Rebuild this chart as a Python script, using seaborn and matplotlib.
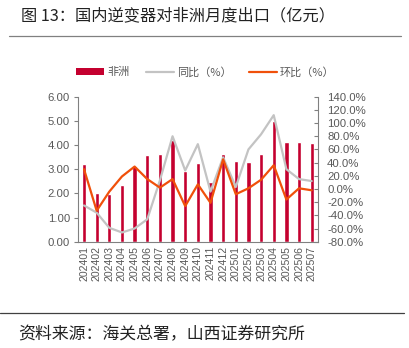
import matplotlib
matplotlib.use("Agg")
import matplotlib.pyplot as plt
import seaborn as sns
import pandas as pd
from matplotlib.lines import Line2D
from matplotlib.patches import Patch
from matplotlib.ticker import FuncFormatter, MultipleLocator

months = ["202401", "202402", "202403", "202404", "202405", "202406", "202407",
          "202408", "202409", "202410", "202411", "202412", "202501", "202502",
          "202503", "202504", "202505", "202506", "202507"]
africa = [3.21, 2.03, 1.97, 2.35, 3.15, 3.58, 3.63, 4.21, 2.94, 3.26,
          2.45, 3.63, 3.32, 3.29, 3.61, 5.01, 4.11, 4.13, 4.08]
yoy = [-25, -36, -59, -66, -60, -46, 13, 80, 28, 68,
       -4, 48, 3, 60, 83, 112, 30, 15, 12]
mom = [30, -33, -4, 19, 34, 15, 2, 15, -26, 7,
       -21, 45, -8, 1, 14, 36, -16, 1, -2]

legend_labels = ["非洲", "同比（%）", "环比（%）"]
title_text = "图 13：国内逆变器对非洲月度出口（亿元）"
source_text = "资料来源：海关总署，山西证券研究所"

bar_color = "#C4002F"
yoy_color = "#C3C3C3"
mom_color = "#F0500A"
text_gray = "#595959"
tick_font = "Liberation Sans"

sns.set_theme(style="white")
plt.rcParams["font.family"] = ["Noto Sans CJK SC", "DejaVu Sans"]

df = pd.DataFrame({"month": months, "africa": africa, "yoy": yoy, "mom": mom})

fig = plt.figure(figsize=(4.10, 3.48), dpi=100)
ax = fig.add_axes([0.1895, 0.3055, 0.5861, 0.4166])
sns.barplot(data=df, x="month", y="africa", color=bar_color, width=0.34,
            saturation=1, ax=ax)
ax.set_xlim(-0.5, len(months) - 0.5)
ax.set_ylim(0, 6)
ax.yaxis.set_major_locator(MultipleLocator(1))
ax.yaxis.set_major_formatter(FuncFormatter(lambda v, p: f"{v:.2f}"))
ax.set_xlabel("")
ax.set_ylabel("")

ax2 = ax.twinx()
sns.lineplot(data=df, x="month", y="yoy", color=yoy_color, linewidth=1.6,
             ax=ax2, sort=False)
sns.lineplot(data=df, x="month", y="mom", color=mom_color, linewidth=1.6,
             ax=ax2, sort=False)
ax2.set_ylim(-80, 140)
ax2.yaxis.set_major_locator(MultipleLocator(20))
ax2.yaxis.set_major_formatter(FuncFormatter(lambda v, p: f"{v:.1f}%"))
ax2.set_xlim(-0.5, len(months) - 0.5)
ax2.set_ylabel("")
ax2.set_xlabel("")

for a in (ax, ax2):
    for s in a.spines.values():
        s.set_visible(False)
    a.grid(False)

ax.spines["left"].set_visible(True)
ax.spines["bottom"].set_visible(True)
ax2.spines["right"].set_visible(True)
for s in (ax.spines["left"], ax.spines["bottom"], ax2.spines["right"]):
    s.set_color("#808080")
    s.set_linewidth(0.8)

ax.set_xticks([i - 0.5 for i in range(len(months) + 1)], minor=True)
ax.set_xticks(range(len(months)))
ax.set_xticklabels(months, rotation=90, fontsize=7.6, color=text_gray,
                   family=tick_font)
ax.tick_params(axis="x", which="major", length=0, pad=3)
ax.tick_params(axis="x", which="minor", length=3, color="#808080", width=0.8,
               direction="out")
ax.tick_params(axis="y", length=3, color="#808080", width=0.8, direction="out",
               labelsize=8.2, labelcolor=text_gray, pad=2.5)
ax2.tick_params(axis="y", length=3, color="#808080", width=0.8, direction="in",
                labelsize=8.2, labelcolor=text_gray, pad=6.5)
for lab in ax.get_yticklabels() + ax2.get_yticklabels():
    lab.set_family(tick_font)

handles = [Patch(facecolor=bar_color, edgecolor="none"),
           Line2D([], [], color=yoy_color, linewidth=1.6),
           Line2D([], [], color=mom_color, linewidth=1.6)]
fig.legend(handles, legend_labels, loc="center", bbox_to_anchor=(0.501, 0.793),
           ncol=3, frameon=False, fontsize=8, labelcolor=text_gray,
           handlelength=2.5, handleheight=0.5, handletextpad=0.3,
           columnspacing=1.5)

fig.text(0.051, 0.955, title_text, fontsize=11.7, color="#222222", va="center",
         ha="left")
fig.add_artist(Line2D([0.022, 0.978], [0.897, 0.897], color="#808080",
                      linewidth=0.9, transform=fig.transFigure))
fig.add_artist(Line2D([0.0, 0.985], [0.101, 0.101], color="#404040",
                      linewidth=0.9, transform=fig.transFigure))
fig.text(0.044, 0.04, source_text, fontsize=12.2, color="#222222", va="center",
         ha="left")

fig.savefig("out.png", dpi=100)
